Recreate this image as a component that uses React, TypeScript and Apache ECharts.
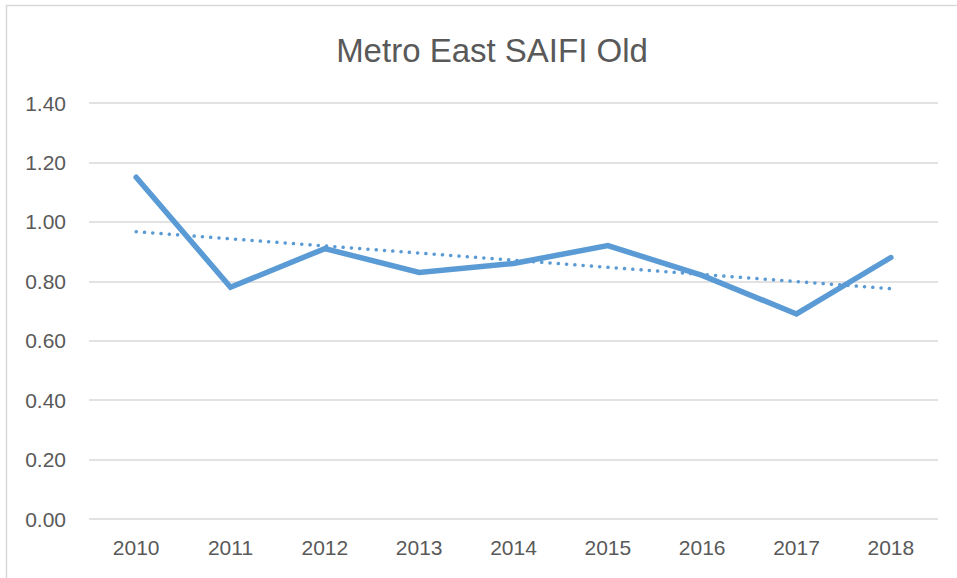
import React, { useEffect, useRef } from "react";
import * as echarts from "echarts";

const years = ["2010", "2011", "2012", "2013", "2014", "2015", "2016", "2017", "2018"];
const saifi = [1.15, 0.78, 0.91, 0.83, 0.86, 0.92, 0.82, 0.69, 0.88];
// Linear trendline endpoints (2010, 2018)
const trendEnds = [0.967, 0.775];
const titleText = "Metro East SAIFI Old";

const FONT = "'Liberation Sans', Arial, sans-serif";
const TXT = "#595959";
const BLUE = "#5B9BD5";

export default function App() {
  const ref = useRef<HTMLDivElement>(null);
  useEffect(() => {
    document.body.style.margin = "0";
    const chart = echarts.init(ref.current!, null, { renderer: "svg" });
    chart.setOption({
      animation: false,
      backgroundColor: "#ffffff",
      title: {
        text: titleText,
        left: 487,
        textAlign: "center",
        top: 29,
        textStyle: { fontFamily: FONT, fontSize: 33, fontWeight: "normal", color: TXT },
      },
      graphic: [
        {
          type: "rect",
          shape: { x: 6.5, y: 5.5, width: 970, height: 600 },
          style: { fill: "none", stroke: "#d9d9d9", lineWidth: 1.5 },
          silent: true,
        },
      ],
      grid: { left: 89, right: 19, top: 103, bottom: 59 },
      xAxis: {
        type: "category",
        data: years,
        boundaryGap: true,
        axisLine: { show: false },
        axisTick: { show: false },
        axisLabel: { fontFamily: FONT, fontSize: 21, color: TXT, margin: 18 },
      },
      yAxis: {
        type: "value",
        min: 0,
        max: 1.4,
        interval: 0.2,
        axisLine: { show: false },
        axisTick: { show: false },
        axisLabel: {
          fontFamily: FONT,
          fontSize: 21,
          color: TXT,
          margin: 23,
          formatter: (v: number) => v.toFixed(2),
        },
        splitLine: { lineStyle: { color: "#d9d9d9", width: 1.5 } },
      },
      series: [
        {
          type: "line",
          data: saifi,
          symbol: "none",
          lineStyle: { color: BLUE, width: 5.5, cap: "round", join: "miter" },
          z: 3,
          markLine: {
            silent: true,
            symbol: "none",
            label: { show: false },
            lineStyle: { color: BLUE, width: 3.5, type: [0.1, 8.2], cap: "round" },
            data: [
              [
                { coord: [years[0], trendEnds[0]] },
                { coord: [years[years.length - 1], trendEnds[1]] },
              ],
            ],
          },
        },
      ],
    });
    return () => chart.dispose();
  }, []);
  return <div ref={ref} style={{ width: 957, height: 578 }} />;
}
